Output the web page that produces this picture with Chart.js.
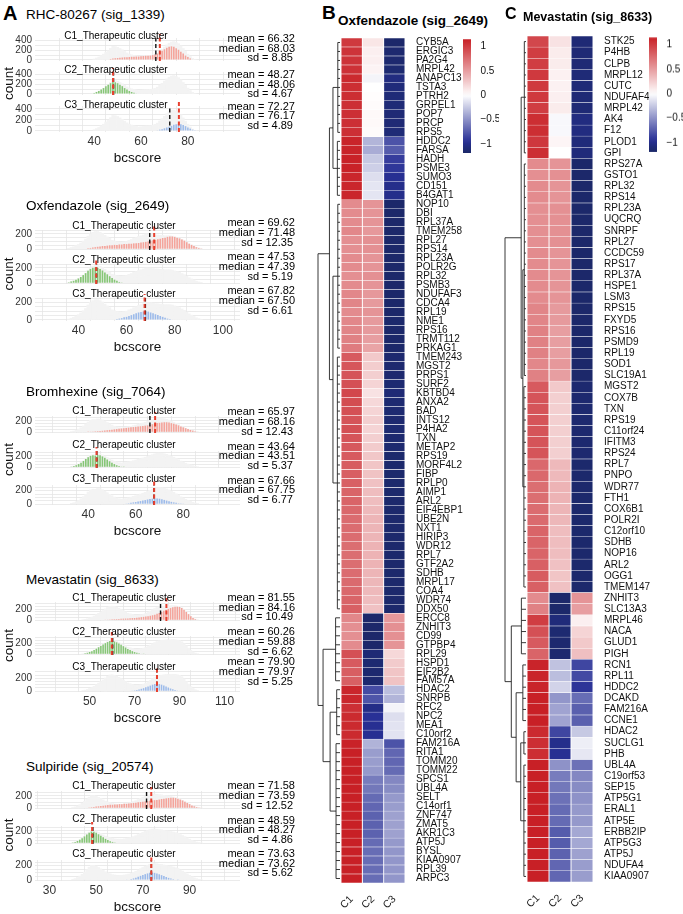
<!DOCTYPE html>
<html>
<head>
<meta charset="utf-8">
<script src="https://cdn.jsdelivr.net/npm/chart.js@4.4.0/dist/chart.umd.min.js"></script>
<style>
html, body { margin: 0; padding: 0; background: #fff; }
#page { position: relative; width: 683px; height: 914px; overflow: hidden; font-family: "Liberation Sans", Arial, sans-serif; color: #000; }
#page canvas { position: absolute; }
.t { position: absolute; white-space: nowrap; line-height: 1; }
</style>
</head>
<body>
<div id="page"></div>
<script>
// ---- panel A : bcscore histograms ----
const drugs = ['RHC-80267 (sig_1339)', 'Oxfendazole (sig_2649)', 'Bromhexine (sig_7064)', 'Mevastatin (sig_8633)', 'Sulpiride (sig_20574)'];
const clusters = ['C1_Therapeutic cluster', 'C2_Therapeutic cluster', 'C3_Therapeutic cluster'];
const means   = [[66.32, 48.27, 72.27], [69.62, 47.53, 67.82], [65.97, 43.64, 67.66], [81.55, 60.26, 79.90], [71.58, 48.59, 73.63]];
const medians = [[68.03, 48.06, 76.17], [71.48, 47.39, 67.50], [68.16, 43.51, 67.75], [84.16, 59.88, 79.97], [73.59, 48.27, 73.62]];
const sds     = [[8.85, 4.67, 4.89], [12.35, 5.19, 6.61], [12.43, 5.37, 6.77], [10.49, 6.62, 5.25], [12.52, 4.86, 5.62]];
const xTicks = [[40, 60, 80], [40, 60, 80, 100], [40, 60, 80], [50, 70, 90, 110], [30, 50, 70, 90]];
const yTicks = [[0, 200, 400], [0, 200], [0, 200], [0, 200], [0, 200]];

// first bin (bcscore) of each cluster, then counts per 1-unit bin
const rhcStart = [47, 40, 66];
const rhcC1 = [20,30,35,40,45,50,55,55,60,65,65,70,70,75,80,85,85,90,100,110,130,160,190,220,250,270,280,270,240,210,170,130,90,60,30,10];
const rhcC2 = [20,40,60,90,120,160,190,220,250,240,220,190,160,120,90,60,40,25,10];
const rhcC3 = [5,10,20,30,45,60,75,90,110,120,125,120,105,85,60,40,20,8];

const oxfStart = [44, 36, 55];
const oxfC1 = [10,15,20,25,30,35,40,40,45,50,50,55,55,60,60,65,65,70,70,75,75,80,85,90,95,100,110,115,120,130,135,145,150,160,165,165,160,150,140,125,110,90,70,55,40,25,15,8];
const oxfC2 = [10,20,30,45,60,80,105,130,160,185,200,205,200,185,165,140,115,90,65,45,30,15,8];
const oxfC3 = [5,10,15,20,30,35,45,55,65,75,85,90,95,100,95,85,75,65,55,45,35,25,15,10,5];

const bromStart = [40, 33, 55];
const bromC1 = [5,10,12,15,18,20,25,30,35,40,45,50,55,60,65,70,75,80,85,90,95,100,105,110,115,120,130,140,150,160,165,170,175,175,170,160,150,135,120,100,85,70,55,40,28,16,8];
const bromC2 = [10,20,35,55,80,110,145,175,200,210,205,215,210,190,165,135,105,80,55,35,20,10,5];
const bromC3 = [5,8,12,18,25,30,38,45,52,60,68,75,80,85,85,80,72,62,52,42,33,25,18,12,8,4];

const mevStart = [57, 47, 68];
const mevC1 = [5,10,12,15,18,20,22,25,28,30,32,35,38,40,45,50,55,60,65,70,80,90,100,115,130,150,170,190,205,220,235,245,245,240,220,190,150,110,70,40,20,8];
const mevC2 = [8,15,25,40,55,75,100,125,150,175,200,220,240,240,230,215,195,170,145,120,95,75,55,38,25,15,8,4];
const mevC3 = [4,8,12,18,25,35,45,58,70,85,100,110,115,110,100,85,70,55,40,28,18,10,5,3];

const sulStart = [46, 40, 63];
const sulC1 = [5,10,15,20,25,30,35,40,45,50,55,55,60,60,65,65,70,70,75,80,85,90,95,100,105,110,115,120,125,130,135,140,150,155,160,165,170,170,165,155,140,125,105,85,65,45,30,18,10,5];
const sulC2 = [10,20,35,55,80,110,140,170,190,185,170,145,120,95,70,50,32,20,10,5];
const sulC3 = [4,8,14,22,32,45,58,70,82,92,100,105,100,92,80,68,55,42,30,20,12,6,3];

// ---- panel B / C : scaled expression heatmaps ----
const heatCols = ['C1', 'C2', 'C3'];
const genesB = ['CYB5A','ERGIC3','PA2G4','MRPL42','ANAPC13','TSTA3','PTRH2','GRPEL1','POP7','PRCP','RPS5',
  'HDDC2','FARSA','HADH','PSME3','SUMO3','CD151','B4GAT1',
  'NOP10','DBI','RPL37A','TMEM258','RPL27','RPS14','RPL23A','POLR2G','RPL32','PSMB3','NDUFAF3','CDCA4','RPL19','NME1','RPS16','TRMT112','PRKAG1',
  'TMEM243','MGST2','PRPS1','SURF2','KBTBD4','ANXA2','BAD','INTS12','P4HA2','TXN','METAP2','RPS19','MORF4L2','FIBP','RPLP0','AIMP1','ARL2','EIF4EBP1','UBE2N','NXT1','HIRIP3','WDR12','RPL7','GTF2A2','SDHB','MRPL17','COA4','WDR74','DDX50',
  'ERCC8','ZNHIT3','CD99','GTPBP4','RPL29','HSPD1','EIF2B2','FAM57A',
  'HDAC2','SNRPB','RFC2','NPC2','MEA1','C10orf2',
  'FAM216A','RITA1','TOMM20','TOMM22','SPCS1','UBL4A','SELT','C14orf1','ZNF747','ZMAT5','AKR1C3','ATP5J','BYSL','KIAA0907','RPL39','ARPC3'];
const oxfZ1 = [1.02,1.05,1.05,1.06,1.10,1.08,1.08,1.07,1.07,1.07,1.07,
  1.13,1.13,1.14,1.14,1.12,1.12,1.12,
  0.60,0.60,0.60,0.62,0.58,0.58,0.60,0.60,0.58,0.60,0.62,0.63,0.60,0.62,0.63,0.65,0.68,
  0.85,0.87,0.88,0.90,0.95,0.92,0.90,0.88,0.90,0.88,0.86,0.85,0.84,0.83,0.82,0.80,0.80,0.78,0.76,0.76,0.76,0.75,0.75,0.75,0.76,0.77,0.78,0.80,0.82,
  0.62,0.58,0.58,0.60,0.90,0.85,0.83,0.82,
  1.12,1.12,1.07,1.10,1.10,1.10,
  1.14,1.15,1.15,1.15,1.15,1.15,1.15,1.15,1.15,1.15,1.15,1.15,1.15,1.15,1.15,1.15];
const oxfZ2 = [0.13,0.08,0.08,0.06,-0.05,0.00,0.01,0.02,0.03,0.03,0.02,
  -0.34,-0.38,-0.25,-0.22,-0.15,-0.12,-0.12,
  0.55,0.55,0.55,0.53,0.57,0.57,0.55,0.55,0.57,0.55,0.53,0.52,0.55,0.52,0.52,0.50,0.47,
  0.28,0.26,0.25,0.22,0.15,0.20,0.22,0.25,0.22,0.25,0.27,0.29,0.30,0.31,0.32,0.34,0.34,0.36,0.38,0.38,0.38,0.39,0.39,0.39,0.38,0.37,0.36,0.34,0.32,
  -1.15,-1.15,-1.15,-1.15,-1.10,-1.12,-1.13,-1.13,
  -0.82,-0.78,-1.02,-0.95,-0.97,-0.97,
  -0.35,-0.45,-0.45,-0.47,-0.60,-0.62,-0.68,-0.70,-0.72,-0.72,-0.72,-0.68,-0.67,-0.67,-0.67,-0.67];
const oxfZ3 = [-1.15,-1.13,-1.13,-1.12,-1.05,-1.08,-1.09,-1.09,-1.10,-1.10,-1.09,
  -0.79,-0.75,-0.89,-0.92,-0.97,-1.00,-1.00,
  -1.15,-1.15,-1.15,-1.15,-1.15,-1.15,-1.15,-1.15,-1.15,-1.15,-1.15,-1.15,-1.15,-1.14,-1.15,-1.15,-1.15,
  -1.13,-1.13,-1.13,-1.12,-1.10,-1.12,-1.12,-1.13,-1.12,-1.13,-1.13,-1.14,-1.14,-1.14,-1.14,-1.14,-1.14,-1.14,-1.14,-1.14,-1.14,-1.14,-1.14,-1.14,-1.14,-1.14,-1.14,-1.14,-1.14,
  0.53,0.57,0.57,0.55,0.20,0.27,0.30,0.31,
  -0.30,-0.34,-0.05,-0.15,-0.13,-0.13,
  -0.79,-0.70,-0.70,-0.68,-0.55,-0.53,-0.47,-0.45,-0.43,-0.43,-0.43,-0.47,-0.48,-0.48,-0.48,-0.48];

const genesC = ['STK25','P4HB','CLPB','MRPL12','CUTC','NDUFAF4','MRPL42','AK4','F12','PLOD1','GPI',
  'RPS27A','GSTO1','RPL32','RPS14','RPL23A','UQCRQ','SNRPF','RPL27','CCDC59','RPS17','RPL37A','HSPE1','LSM3','RPS15','FXYD5','RPS16','PSMD9','RPL19','SOD1','SLC19A1',
  'MGST2','COX7B','TXN','RPS19','C11orf24','IFITM3','RPS24','RPL7','PNPO','WDR77','FTH1','COX6B1','POLR2I','C12orf10','SDHB','NOP16','ARL2','OGG1','TMEM147',
  'ZNHIT3','SLC13A3','MRPL46','NACA','GLUD1','PIGH',
  'RCN1','RPL11','HDDC2','DCAKD','FAM216A','CCNE1',
  'HDAC2','SUCLG1','PHB',
  'UBL4A','C19orf53','SEP15','ATP5G1','ERAL1','ATP5E','ERBB2IP','ATP5G3','ATP5J','NDUFA4','KIAA0907'];
const mevZ1 = [0.95,1.00,1.00,1.02,1.02,1.02,1.00,1.08,1.08,1.03,1.08,
  0.60,0.58,0.60,0.60,0.58,0.58,0.58,0.58,0.60,0.60,0.60,0.60,0.60,0.63,0.63,0.65,0.65,0.65,0.62,0.65,
  0.85,0.88,0.88,0.88,0.88,0.88,0.88,0.78,0.78,0.75,0.75,0.76,0.77,0.80,0.80,0.80,0.82,0.84,0.82,
  0.60,0.65,1.00,0.90,0.85,0.80,
  1.13,1.13,1.13,1.15,1.15,1.15,
  1.10,1.08,1.08,
  1.15,1.15,1.15,1.15,1.15,1.15,1.15,1.15,1.15,1.15,1.15];
const mevZ2 = [0.15,0.10,0.10,0.07,0.07,0.08,0.10,-0.03,-0.03,0.05,0.00,
  0.55,0.57,0.55,0.55,0.57,0.57,0.57,0.57,0.55,0.55,0.55,0.55,0.55,0.52,0.52,0.50,0.50,0.50,0.53,0.50,
  0.28,0.25,0.25,0.25,0.25,0.25,0.25,0.36,0.36,0.39,0.39,0.38,0.37,0.34,0.34,0.34,0.32,0.30,0.32,
  -1.15,-1.15,-1.08,-1.12,-1.13,-1.13,
  -0.28,-0.30,-0.20,-0.48,-0.42,-0.42,
  -0.85,-1.00,-0.97,
  -0.50,-0.60,-0.62,-0.65,-0.68,-0.68,-0.75,-0.75,-0.72,-0.70,-0.70];
const mevZ3 = [-1.10,-1.10,-1.10,-1.09,-1.09,-1.10,-1.10,-1.05,-1.05,-1.08,-1.08,
  -1.15,-1.15,-1.15,-1.15,-1.15,-1.15,-1.15,-1.15,-1.15,-1.15,-1.15,-1.15,-1.15,-1.15,-1.15,-1.15,-1.15,-1.15,-1.15,-1.15,
  -1.13,-1.13,-1.13,-1.13,-1.13,-1.13,-1.13,-1.14,-1.14,-1.14,-1.14,-1.14,-1.14,-1.14,-1.14,-1.14,-1.14,-1.14,-1.14,
  0.55,0.50,0.08,0.22,0.28,0.33,
  -0.85,-0.83,-0.93,-0.67,-0.73,-0.73,
  -0.25,-0.08,-0.11,
  -0.65,-0.55,-0.53,-0.50,-0.47,-0.47,-0.40,-0.40,-0.43,-0.45,-0.45];

// row dendrograms: leaf groups {a..b} and merges {h, l, r}, heights relative to the root
const treeB = { h: 1,
  l: { h: 0.48, l: { h: 0.32, l: { a: 0, b: 10, h: 0.1 }, r: { a: 11, b: 17, h: 0.12 } },
                r: { h: 0.32, l: { a: 18, b: 34, h: 0.1 }, r: { a: 35, b: 63, h: 0.12 } } },
  r: { h: 0.77, l: { a: 64, b: 71, h: 0.2 },
                r: { h: 0.45, l: { a: 72, b: 77, h: 0.15 }, r: { a: 78, b: 93, h: 0.18 } } } };
const treeC = { h: 1,
  l: { h: 0.23, l: { a: 0, b: 10, h: 0.08 },
                r: { h: 0.15, l: { a: 11, b: 30, h: 0.08 }, r: { a: 31, b: 49, h: 0.1 } } },
  r: { h: 0.7, l: { a: 50, b: 55, h: 0.22 },
               r: { h: 0.47, l: { a: 56, b: 61, h: 0.15 },
                             r: { h: 0.25, l: { a: 62, b: 64, h: 0.1 }, r: { a: 65, b: 75, h: 0.1 } } } } };
const legendTicks = [-1, -0.5, 0, 0.5, 1];

// ---------------------------------------------------------------
Chart.defaults.font.family = '"Liberation Sans", Arial, sans-serif';
Chart.defaults.animation = false;
Chart.defaults.plugins.legend.display = false;
Chart.defaults.plugins.tooltip.enabled = false;

const page = document.getElementById('page');
function addCanvas(x, y, w, h) {
  const c = document.createElement('canvas');
  c.width = w; c.height = h;
  c.style.left = x + 'px'; c.style.top = y + 'px';
  c.style.width = w + 'px'; c.style.height = h + 'px';
  page.appendChild(c);
  return c;
}
function addText(str, x, yc, size, opt = {}) {
  const d = document.createElement('div');
  d.className = 't';
  d.textContent = str;
  d.style.fontSize = size + 'px';
  d.style.top = (yc - size * 0.5) + 'px';
  if (opt.right) d.style.right = (683 - x) + 'px';
  else d.style.left = x + 'px';
  if (opt.center) d.style.transform = 'translateX(-50%)';
  if (opt.bold) d.style.fontWeight = 'bold';
  page.appendChild(d);
}

const histStart = [rhcStart, oxfStart, bromStart, mevStart, sulStart];
const histData = [[rhcC1, rhcC2, rhcC3], [oxfC1, oxfC2, oxfC3], [bromC1, bromC2, bromC3], [mevC1, mevC2, mevC3], [sulC1, sulC2, sulC3]];
const clusterColors = ['#f4a49b', '#86c676', '#9dbbea'];

// layout of each drug block (pixels / axis ranges)
const L = [
  { x: [21, 96],      y: [-22, 452], step: 100, tops: [37, 71, 105],       h: 27, strip: [35.7, 70, 104.7],    stripX: 116, stat: [38.3, 74.3, 106],     title: 15 },
  { x: [27.3, 101.8], y: [-12, 250], step: 50,  tops: [228.5, 262.5, 296.5], h: 24, strip: [226, 260, 294.3],   stripX: 124, stat: [222.7, 256.7, 290.7], title: 206 },
  { x: [23.8, 97.7],  y: [-14, 285], step: 50,  tops: [415, 450, 484],     h: 21, strip: [411, 445, 479.3],    stripX: 124, stat: [411.7, 446, 480],     title: 391.7 },
  { x: [31.4, 111.2], y: [-15, 330], step: 50,  tops: [601.3, 635, 669],   h: 23, strip: [597.7, 632.3, 666.7], stripX: 124, stat: [597.3, 631.7, 661.7], title: 579.3 },
  { x: [29.3, 106.1], y: [-14, 280], step: 50,  tops: [790, 825, 859],     h: 22, strip: [786, 819.3, 854.3],  stripX: 124, stat: [785.7, 820, 853.3],   title: 766.7 }
];
const PAD = 8;

function bins(start, counts) {
  return counts.map((c, i) => ({ x: start + i, y: c }));
}

function refLines(mean, median) {
  return {
    id: 'refLines',
    afterDatasetsDraw(chart) {
      const { ctx, chartArea: a, scales: { x } } = chart;
      ctx.save();
      ctx.beginPath();
      ctx.rect(a.left, a.top - 5, a.right - a.left, a.bottom - a.top + 5);
      ctx.clip();
      ctx.setLineDash([4, 2.5]);
      [[mean, '#111111', 1.4, a.top], [median, '#e8402f', 2, a.top - 4]].forEach(([v, col, w, top]) => {
        const px = x.getPixelForValue(v);
        ctx.strokeStyle = col;
        ctx.lineWidth = w;
        ctx.beginPath();
        ctx.moveTo(px, a.bottom);
        ctx.lineTo(px, top);
        ctx.stroke();
      });
      ctx.restore();
    }
  };
}

function histPanel(b, k) {
  const lay = L[b];
  const axis = k === 2;
  const cv = addCanvas(0, lay.tops[k] - PAD, 260, lay.h + PAD + (axis ? 40 : 6));
  const datasets = [{
    data: bins(histStart[b][k], histData[b][k]),
    backgroundColor: clusterColors[k],
    stack: 'fg', grouped: false, barPercentage: 0.68, categoryPercentage: 1
  }];
  // whole data set in faint grey behind the highlighted cluster
  for (let j = 0; j < 3; j++) {
    datasets.push({
      data: bins(histStart[b][j], histData[b][j]),
      backgroundColor: '#f3f3f3',
      stack: 'bg', grouped: false, barPercentage: 1, categoryPercentage: 1
    });
  }
  new Chart(cv, {
    type: 'bar',
    data: { datasets },
    options: {
      responsive: false,
      animation: false,
      layout: { padding: { top: PAD, right: 20, left: 0, bottom: axis ? 0 : 6 } },
      scales: {
        x: {
          type: 'linear', min: lay.x[0], max: lay.x[1],
          border: { display: false },
          grid: { color: '#e6e6e6', lineWidth: 0.8, drawTicks: false },
          afterBuildTicks: s => {
            const t = [];
            for (let v = Math.ceil(lay.x[0] / 10) * 10; v <= lay.x[1]; v += 10) t.push({ value: v });
            s.ticks = t;
          },
          ticks: {
            display: axis, autoSkip: false, maxRotation: 0, padding: 2,
            font: { size: 12 }, color: '#333',
            callback: v => xTicks[b].includes(v) ? String(v) : ''
          },
          title: { display: axis, text: 'bcscore', font: { size: 13.5 }, color: '#111', padding: { top: 0, bottom: 6 } },
          afterFit: s => { s.height = axis ? 40 : 0; }
        },
        y: {
          stacked: true, min: lay.y[0], max: lay.y[1],
          border: { display: false },
          grid: { color: '#e6e6e6', lineWidth: 0.8, drawTicks: false },
          afterBuildTicks: s => {
            const t = [];
            for (let v = 0; v <= lay.y[1]; v += lay.step) t.push({ value: v });
            s.ticks = t;
          },
          ticks: {
            autoSkip: false, padding: 3, font: { size: 10 }, color: '#333',
            callback: v => yTicks[b].includes(v) ? String(v) : ''
          },
          title: { display: k === 1, text: 'count', font: { size: 13.5 }, color: '#111', padding: { top: 1 } },
          afterFit: s => { s.width = 35; }
        }
      }
    },
    plugins: [refLines(means[b][k], medians[b][k])]
  });
}

addText('A', 3, 13, 20, { bold: true });
drugs.forEach((name, b) => {
  const lay = L[b];
  addText(name, 26, lay.title, 13.5);
  for (let k = 0; k < 3; k++) {
    histPanel(b, k);
    addText(clusters[k], lay.stripX, lay.strip[k], 10, { center: true });
    const y0 = lay.stat[k];
    addText('mean = ' + means[b][k].toFixed(2), 295, y0, 11, { right: true });
    addText('median = ' + medians[b][k].toFixed(2), 295, y0 + 9.8, 11, { right: true });
    addText('sd = ' + sds[b][k].toFixed(2), 293, y0 + 19.6, 11, { right: true });
  }
});

// ---- heatmaps ----
const heatStops = [[-1.16, [27, 40, 104]], [-0.95, [40, 48, 150]], [0, [255, 255, 255]], [1.16, [200, 30, 36]]];
function heatColor(v) {
  for (let i = 1; i < heatStops.length; i++) {
    if (v <= heatStops[i][0] || i === heatStops.length - 1) {
      const [v0, c0] = heatStops[i - 1], [v1, c1] = heatStops[i];
      const t = Math.min(1, Math.max(0, (v - v0) / (v1 - v0)));
      return 'rgb(' + c0.map((c, j) => Math.round(c + (c1[j] - c) * t)).join(',') + ')';
    }
  }
}

function dendro(tree, width) {
  return {
    id: 'dendro',
    afterDraw(chart) {
      const { ctx, chartArea: a, scales: { y } } = chart;
      const x0 = a.left - 1;
      const xh = h => x0 - h * width;
      const seg = (x1, y1, x2, y2) => { ctx.beginPath(); ctx.moveTo(x1, y1); ctx.lineTo(x2, y2); ctx.stroke(); };
      ctx.save();
      ctx.strokeStyle = '#222';
      ctx.lineWidth = 0.9;
      const walk = n => {
        if (n.a !== undefined) {
          const ya = y.getPixelForValue(n.a), yb = y.getPixelForValue(n.b);
          for (let i = n.a; i <= n.b; i++) {
            const yy = y.getPixelForValue(i);
            seg(xh(n.h), yy, x0, yy);
          }
          seg(xh(n.h), ya, xh(n.h), yb);
          return { y: (ya + yb) / 2, h: n.h };
        }
        const l = walk(n.l), r = walk(n.r);
        seg(xh(n.h), l.y, xh(n.h), r.y);
        seg(xh(n.h), l.y, xh(l.h), l.y);
        seg(xh(n.h), r.y, xh(r.h), r.y);
        return { y: (l.y + r.y) / 2, h: n.h };
      };
      walk(tree);
      ctx.restore();
    }
  };
}

function heatPanel(o) {
  const cv = addCanvas(o.x, 0, o.w, 914);
  new Chart(cv, {
    type: 'bar',
    data: {
      labels: o.genes,
      datasets: o.z.map((vals, j) => ({
        label: heatCols[j],
        data: o.genes.map(() => 1),
        backgroundColor: vals.map(heatColor),
        borderColor: '#ffffff',
        borderWidth: { top: 0.5, bottom: 0.5, left: 0.8, right: 0.8 },
        borderSkipped: false,
        barPercentage: 1, categoryPercentage: 1
      }))
    },
    options: {
      indexAxis: 'y',
      responsive: false,
      animation: false,
      layout: { padding: { left: o.left - o.x, top: o.top, right: 0, bottom: 0 } },
      scales: {
        x: {
          type: 'linear', stacked: true, min: 0, max: 3,
          border: { display: false }, grid: { display: false },
          afterBuildTicks: s => { s.ticks = [0.5, 1.5, 2.5].map(v => ({ value: v })); },
          ticks: {
            autoSkip: false, minRotation: 45, maxRotation: 45, padding: 2,
            font: { size: 10.5 }, color: '#222',
            callback: v => heatCols[Math.floor(v)]
          },
          afterFit: s => { s.height = 914 - o.bottom; }
        },
        y: {
          stacked: true, position: 'right',
          border: { display: false }, grid: { display: false },
          ticks: { autoSkip: false, padding: 3, font: { size: 10 }, color: '#111' },
          afterFit: s => { s.width = o.x + o.w - o.right; }
        }
      }
    },
    plugins: [dendro(o.tree, o.dw)]
  });
}

function colorBar(x, top, bottom) {
  const lo = -1.19, hi = 1.15;
  const cv = addCanvas(x - 8, 0, 44, bottom + 20);
  new Chart(cv, {
    type: 'bar',
    data: {
      labels: [''],
      datasets: [{
        data: [[lo, hi]],
        barPercentage: 1, categoryPercentage: 1,
        backgroundColor: c => {
          const ch = c.chart;
          if (!ch.chartArea) return '#ffffff';
          const ys = ch.scales.y;
          const g = ch.ctx.createLinearGradient(0, ys.getPixelForValue(lo), 0, ys.getPixelForValue(hi));
          for (let i = 0; i <= 24; i++) {
            const v = lo + (hi - lo) * i / 24;
            g.addColorStop(i / 24, heatColor(v));
          }
          return g;
        }
      }]
    },
    options: {
      responsive: false,
      animation: false,
      layout: { padding: { left: 8, top: top, bottom: 20, right: 0 } },
      scales: {
        x: { display: false },
        y: {
          position: 'right', min: lo, max: hi,
          grid: { display: false }, border: { display: false },
          afterBuildTicks: s => { s.ticks = legendTicks.map(v => ({ value: v })); },
          ticks: { padding: 1.5, font: { size: 10 }, color: '#111', callback: v => String(v).replace('-', '\u2212') },
          afterFit: s => { s.width = 28; }
        }
      }
    }
  });
}

addText('B', 322, 12.5, 19, { bold: true });
addText('Oxfendazole (sig_2649)', 338, 20.5, 13.5, { bold: true });
heatPanel({ x: 300, w: 172, left: 341, right: 405, top: 38, bottom: 883, genes: genesB, z: [oxfZ1, oxfZ2, oxfZ3], tree: treeB, dw: 22 });
colorBar(463, 39.3, 153.3);

addText('C', 505, 14, 16, { bold: true });
addText('Mevastatin (sig_8633)', 523, 17.5, 12.5, { bold: true });
heatPanel({ x: 490, w: 193, left: 527, right: 593, top: 36, bottom: 882, genes: genesC, z: [mevZ1, mevZ2, mevZ3], tree: treeC, dw: 21 });
colorBar(649, 37.3, 151.7);
</script>
</body>
</html>
